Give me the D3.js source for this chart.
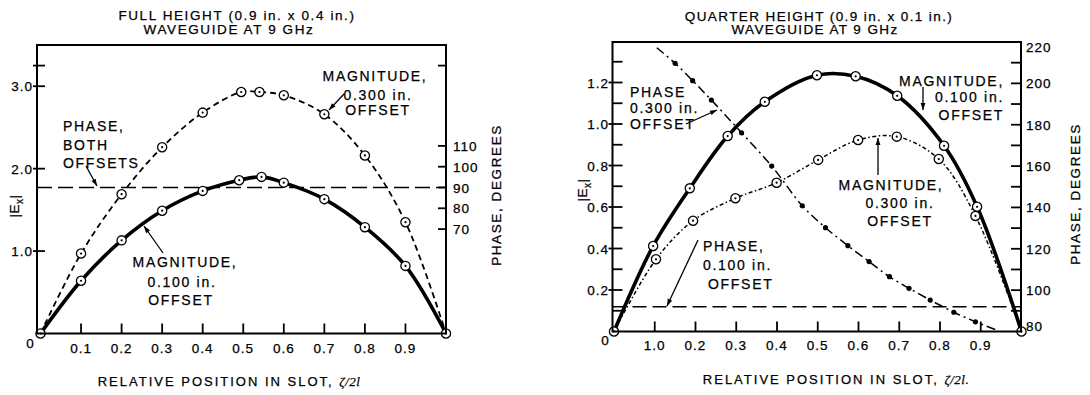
<!DOCTYPE html>
<html><head><meta charset="utf-8">
<script src="https://cdn.jsdelivr.net/npm/d3@7"></script>
<style>
body{margin:0;background:#fff}
svg{display:block}
text{font-family:"Liberation Sans",Arial,sans-serif;fill:#000;stroke:#000;stroke-width:0.25px}
</style>
</head><body>
<svg id="c" width="1090" height="395"></svg>
<script>
// ---------- DATA ----------
// Full height waveguide (left panel)
const fullMag300X = [0, 0.1, 0.2, 0.3, 0.4, 0.495, 0.54, 0.6, 0.7, 0.8, 0.9, 1.0];
const fullMag300  = [0, 0.97, 1.69, 2.26, 2.68, 2.93, 2.93, 2.89, 2.66, 2.16, 1.35, 0];
const fullMag100X = [0, 0.1, 0.2, 0.3, 0.4, 0.49, 0.545, 0.6, 0.7, 0.8, 0.9, 1.0];
const fullMag100  = [0, 0.64, 1.13, 1.49, 1.73, 1.86, 1.90, 1.83, 1.63, 1.29, 0.82, 0];
const fullPhaseBoth = 90;           // degrees, both offsets
const fullXTicks = [0.1,0.2,0.3,0.4,0.5,0.6,0.7,0.8,0.9];
const fullXLabels = ["0.1","0.2","0.3","0.4","0.5","0.6","0.7","0.8","0.9"];
const fullYTicks = [1, 2, 3, 3.25];
const fullYLabels = [1, 2, 3];
const fullPhaseTicks = [70, 80, 90, 100, 110];

// Quarter height waveguide (right panel)
const qMag100X = [0, 0.096, 0.186, 0.279, 0.37, 0.498, 0.593, 0.695, 0.81, 0.891, 1.0];
const qMag100  = [0, 0.412, 0.69, 0.942, 1.107, 1.235, 1.23, 1.136, 0.895, 0.601, 0];
const qMag300X = [0, 0.103, 0.194, 0.298, 0.399, 0.501, 0.599, 0.694, 0.797, 0.887, 1.0];
const qMag300  = [0, 0.348, 0.534, 0.642, 0.717, 0.827, 0.923, 0.939, 0.831, 0.557, 0];
const qPhase300X = [0.105, 0.15, 0.193, 0.239, 0.313, 0.387, 0.462, 0.519, 0.574, 0.626, 0.676, 0.724, 0.776, 0.834, 0.887, 0.942];
const qPhase300  = [217.2, 209.7, 201.3, 191.9, 176.1, 160.0, 140.8, 130.2, 121.5, 113.8, 106.5, 100.9, 95.2, 89.3, 84.7, 80.5];
const qPhase100 = 92;               // degrees
const qXTicks = [0.1,0.2,0.3,0.4,0.5,0.6,0.7,0.8,0.9];
const qXLabels = ["1.0","0.2","0.3","0.4","0.5","0.6","0.7","0.8","0.9"];
const qYTicks = [0.1,0.2,0.3,0.4,0.5,0.6,0.7,0.8,0.9,1.0,1.1,1.2,1.3];
const qYLabels = [0.2,0.4,0.6,0.8,1.0,1.2];
const qPhaseTicks = [90,100,110,120,130,140,150,160,170,180,190,200,210];
const qPhaseLabels = [80,100,120,140,160,180,200,220];

// ---------- DRAW ----------
const svg = d3.select("#c");
const defs = svg.append("defs");
defs.append("marker").attr("id","ah").attr("viewBox","0 0 10 10")
  .attr("refX",10).attr("refY",5).attr("markerWidth",9).attr("markerHeight",7)
  .attr("markerUnits","userSpaceOnUse").attr("orient","auto")
  .append("path").attr("d","M0,1.5 L10,5 L0,8.5 Z").attr("fill","#000");

const TS = {size:"13.5px", ls:"1px"};
function txt(g, x, y, s, opts={}) {
  const t = g.append("text").attr("x",x).attr("y",y).text(s)
    .attr("font-size", opts.size || "14px")
    .attr("letter-spacing", opts.ls || "1.7px")
    .attr("text-anchor", opts.anchor || "start");
  return t;
}
function arrow(g, x1,y1,x2,y2){
  g.append("line").attr("x1",x1).attr("y1",y1).attr("x2",x2).attr("y2",y2)
   .attr("stroke","#000").attr("stroke-width",1.3).attr("marker-end","url(#ah)");
}
function markers(g, xs, ys, x, y){
  const m = g.append("g").selectAll("g").data(xs.map((d,i)=>[d,ys[i]])).join("g")
    .attr("transform", d=>`translate(${x(d[0])},${y(d[1])})`);
  m.append("circle").attr("r",4.6).attr("fill","#fff").attr("stroke","#000").attr("stroke-width",1.3);
  m.append("circle").attr("r",1.1).attr("fill","#000");
}
const curve = d3.curveCatmullRom.alpha(0.5);

// ===== LEFT PANEL =====
{
  const g = svg.append("g");
  const x = d3.scaleLinear().domain([0,1]).range([40.5,446]);
  const y = d3.scaleLinear().domain([0,3.5]).range([333.5,45]);
  const p = d3.scaleLinear().domain([90,110]).range([187.5,145.9]);
  const L = 37, R = 446, T = 45, B = 333.5;

  // titles
  txt(g, 237, 20, "FULL HEIGHT (0.9 in. x 0.4 in.)", {anchor:"middle", size:"13.5px", ls:"1.6px"});
  txt(g, 229, 34, "WAVEGUIDE AT 9 GHz", {anchor:"middle", size:"13.5px", ls:"1.6px"});

  // phase both offsets
  g.append("line").attr("x1",L).attr("x2",R).attr("y1",p(fullPhaseBoth)).attr("y2",p(fullPhaseBoth))
    .attr("stroke","#000").attr("stroke-width",1.6).attr("stroke-dasharray","15,6");

  // magnitude 0.300 dashed
  g.append("path").datum(fullMag300X.map((d,i)=>[d,fullMag300[i]]))
    .attr("d", d3.line().x(d=>x(d[0])).y(d=>y(d[1])).curve(curve))
    .attr("fill","none").attr("stroke","#000").attr("stroke-width",1.8).attr("stroke-dasharray","6,4");
  // magnitude 0.100 solid
  g.append("path").datum(fullMag100X.map((d,i)=>[d,fullMag100[i]]))
    .attr("d", d3.line().x(d=>x(d[0])).y(d=>y(d[1])).curve(curve))
    .attr("fill","none").attr("stroke","#000").attr("stroke-width",3.6);

  markers(g, fullMag300X, fullMag300, x, y);
  markers(g, fullMag100X.slice(1,-1), fullMag100.slice(1,-1), x, y);

  // frame
  g.append("rect").attr("x",L).attr("y",T).attr("width",R-L).attr("height",B-T)
    .attr("fill","none").attr("stroke","#000").attr("stroke-width",2);

  // x ticks
  g.append("g").selectAll("line").data(fullXTicks).join("line")
    .attr("x1",d=>x(d)).attr("x2",d=>x(d)).attr("y1",B).attr("y2",B-10)
    .attr("stroke","#000").attr("stroke-width",1.8);
  g.append("g").selectAll("text").data(fullXTicks).join("text")
    .attr("x",d=>x(d)).attr("y",353).attr("text-anchor","middle")
    .attr("font-size",TS.size).attr("letter-spacing",TS.ls).text((d,i)=>fullXLabels[i]);
  txt(g, 30, 348, "0", {anchor:"middle", size:TS.size, ls:"0px"});

  // y ticks
  g.append("g").selectAll("line").data(fullYTicks).join("line")
    .attr("x1",L-4).attr("x2",L+8).attr("y1",d=>y(d)).attr("y2",d=>y(d))
    .attr("stroke","#000").attr("stroke-width",1.8);
  g.append("g").selectAll("text").data(fullYLabels).join("text")
    .attr("x",33).attr("y",d=>y(d)+5).attr("text-anchor","end")
    .attr("font-size",TS.size).attr("letter-spacing",TS.ls).text(d=>d3.format(".1f")(d));
  // right side ticks (magnitude mirrored at top + phase)
  g.append("line").attr("x1",R-8).attr("x2",R).attr("y1",y(3.25)).attr("y2",y(3.25))
    .attr("stroke","#000").attr("stroke-width",1.8);
  g.append("g").selectAll("line").data(fullPhaseTicks).join("line")
    .attr("x1",R-8).attr("x2",R).attr("y1",d=>p(d)).attr("y2",d=>p(d))
    .attr("stroke","#000").attr("stroke-width",1.8);
  g.append("g").selectAll("text").data(fullPhaseTicks).join("text")
    .attr("x",453).attr("y",d=>p(d)+5).attr("text-anchor","start")
    .attr("font-size",TS.size).attr("letter-spacing",TS.ls).text(d=>d);

  // axis titles
  txt(g, 229, 386, "RELATIVE POSITION IN SLOT, ", {anchor:"middle", size:"13px", ls:"2px"})
    .append("tspan").attr("font-family","'Liberation Serif',serif").attr("font-style","italic")
    .attr("letter-spacing","0.5px").text("ζ/2l");
  g.append("text").attr("transform","translate(501,195) rotate(-90)").attr("text-anchor","middle")
    .attr("font-size","13.5px").attr("letter-spacing","1.6px").text("PHASE, DEGREES");
  const ex = g.append("text").attr("transform","translate(19,206) rotate(-90)").attr("text-anchor","middle")
    .attr("font-size","13.5px").attr("letter-spacing","0.5px");
  ex.append("tspan").text("|E");
  ex.append("tspan").attr("dy",4).attr("font-size","10px").text("x");
  ex.append("tspan").attr("dy",-4).text("|");

  // annotations
  txt(g, 63, 131, "PHASE,");
  txt(g, 63, 150, "BOTH");
  txt(g, 63, 168, "OFFSETS");
  arrow(g, 86, 166, 97, 186);

  txt(g, 375, 81, "MAGNITUDE,", {anchor:"middle"});
  txt(g, 378, 100, "0.300 in.", {anchor:"middle"});
  txt(g, 378, 115, "OFFSET", {anchor:"middle"});
  arrow(g, 344, 94, 329, 110);

  txt(g, 185, 267, "MAGNITUDE,", {anchor:"middle"});
  txt(g, 182, 287, "0.100 in.", {anchor:"middle"});
  txt(g, 181, 305, "OFFSET", {anchor:"middle"});
  arrow(g, 163, 253, 144, 226);
}

// ===== RIGHT PANEL =====
{
  const g = svg.append("g");
  const x = d3.scaleLinear().domain([0,1]).range([614,1021.5]);
  const y = d3.scaleLinear().domain([0,1.4]).range([331.5,41]);
  const p = d3.scaleLinear().domain([80,220]).range([331.5,42]);
  const L = 612.5, R = 1021, T = 42, B = 331.5;

  txt(g, 819, 21, "QUARTER HEIGHT (0.9 in. x 0.1 in.)", {anchor:"middle", size:"13.5px", ls:"1.4px"});
  txt(g, 815, 34, "WAVEGUIDE AT 9 GHz", {anchor:"middle", size:"13.5px", ls:"1.4px"});

  // phase 0.100 dashed
  g.append("line").attr("x1",L).attr("x2",R).attr("y1",p(qPhase100)).attr("y2",p(qPhase100))
    .attr("stroke","#000").attr("stroke-width",1.6).attr("stroke-dasharray","14,6");

  // phase 0.300 dash-dot with dots
  g.append("path").datum(qPhase300X.map((d,i)=>[d,qPhase300[i]]))
    .attr("d", d3.line().x(d=>x(d[0])).y(d=>p(d[1])).curve(curve))
    .attr("fill","none").attr("stroke","#000").attr("stroke-width",1.5).attr("stroke-dasharray","9,4,2,4");
  g.append("g").selectAll("circle").data(qPhase300X.slice(1,-1).map((d,i)=>[d,qPhase300[i+1]])).join("circle")
    .attr("cx",d=>x(d[0])).attr("cy",d=>p(d[1])).attr("r",2.6).attr("fill","#000");

  // magnitude 0.300 fine dashed
  g.append("path").datum(qMag300X.map((d,i)=>[d,qMag300[i]]))
    .attr("d", d3.line().x(d=>x(d[0])).y(d=>y(d[1])).curve(curve))
    .attr("fill","none").attr("stroke","#000").attr("stroke-width",1.5).attr("stroke-dasharray","4,2.5,1.5,2.5");
  // magnitude 0.100 solid
  g.append("path").datum(qMag100X.map((d,i)=>[d,qMag100[i]]))
    .attr("d", d3.line().x(d=>x(d[0])).y(d=>y(d[1])).curve(curve))
    .attr("fill","none").attr("stroke","#000").attr("stroke-width",3.6);

  markers(g, qMag300X, qMag300, x, y);
  markers(g, qMag100X.slice(1,-1), qMag100.slice(1,-1), x, y);

  g.append("rect").attr("x",L).attr("y",T).attr("width",R-L).attr("height",B-T)
    .attr("fill","none").attr("stroke","#000").attr("stroke-width",2);

  // x ticks
  g.append("g").selectAll("line").data(qXTicks).join("line")
    .attr("x1",d=>x(d)).attr("x2",d=>x(d)).attr("y1",B).attr("y2",B-10)
    .attr("stroke","#000").attr("stroke-width",1.8);
  g.append("g").selectAll("text").data(qXTicks).join("text")
    .attr("x",d=>x(d)).attr("y",349.5).attr("text-anchor","middle")
    .attr("font-size",TS.size).attr("letter-spacing",TS.ls).text((d,i)=>qXLabels[i]);
  txt(g, 605, 345, "0", {anchor:"middle", size:TS.size, ls:"0px"});

  // left ticks
  g.append("g").selectAll("line").data(qYTicks).join("line")
    .attr("x1",d=> qYLabels.some(v=>Math.abs(v-d)<1e-6) ? L-4 : L).attr("x2",L+10)
    .attr("y1",d=>y(d)).attr("y2",d=>y(d))
    .attr("stroke","#000").attr("stroke-width",1.8);
  g.append("g").selectAll("text").data(qYLabels).join("text")
    .attr("x",609).attr("y",d=>y(d)+5).attr("text-anchor","end")
    .attr("font-size",TS.size).attr("letter-spacing",TS.ls).text(d=>d3.format(".1f")(d));

  // right ticks
  g.append("g").selectAll("line").data(qPhaseTicks).join("line")
    .attr("x1",R-10).attr("x2",R).attr("y1",d=>p(d)).attr("y2",d=>p(d))
    .attr("stroke","#000").attr("stroke-width",1.8);
  g.append("g").selectAll("text").data(qPhaseLabels).join("text")
    .attr("x",1026).attr("y",d=>Math.min(Math.max(p(d), T+5), B-6)+5).attr("text-anchor","start")
    .attr("font-size",TS.size).attr("letter-spacing",TS.ls).text(d=>d);

  txt(g, 836, 384, "RELATIVE POSITION IN SLOT, ", {anchor:"middle", size:"13px", ls:"2px"})
    .append("tspan").attr("font-family","'Liberation Serif',serif").attr("font-style","italic")
    .attr("letter-spacing","0.5px").text("ζ/2l.");
  g.append("text").attr("transform","translate(1080,194) rotate(-90)").attr("text-anchor","middle")
    .attr("font-size","13.5px").attr("letter-spacing","1.6px").text("PHASE, DEGREES");
  const ex = g.append("text").attr("transform","translate(587,190) rotate(-90)").attr("text-anchor","middle")
    .attr("font-size","13.5px").attr("letter-spacing","0.5px");
  ex.append("tspan").text("|E");
  ex.append("tspan").attr("dy",4).attr("font-size","10px").text("x");
  ex.append("tspan").attr("dy",-4).text("|");

  // annotations
  txt(g, 630, 97, "PHASE");
  txt(g, 630, 113, "0.300 in.");
  txt(g, 630, 129, "OFFSET");
  arrow(g, 686, 124, 717, 110);

  txt(g, 1004, 86, "MAGNITUDE,", {anchor:"end"});
  txt(g, 1004, 102, "0.100 in.", {anchor:"end"});
  txt(g, 1004, 120, "OFFSET", {anchor:"end"});
  arrow(g, 923, 87, 923, 110);

  txt(g, 891, 190, "MAGNITUDE,", {anchor:"middle"});
  txt(g, 900, 208, "0.300 in.", {anchor:"middle"});
  txt(g, 900, 226, "OFFSET", {anchor:"middle"});
  arrow(g, 878, 175, 878, 138);

  txt(g, 703, 251, "PHASE,");
  txt(g, 703, 270, "0.100 in.");
  txt(g, 708, 289, "OFFSET");
  arrow(g, 698, 240, 667, 306);
}
</script>
</body></html>
